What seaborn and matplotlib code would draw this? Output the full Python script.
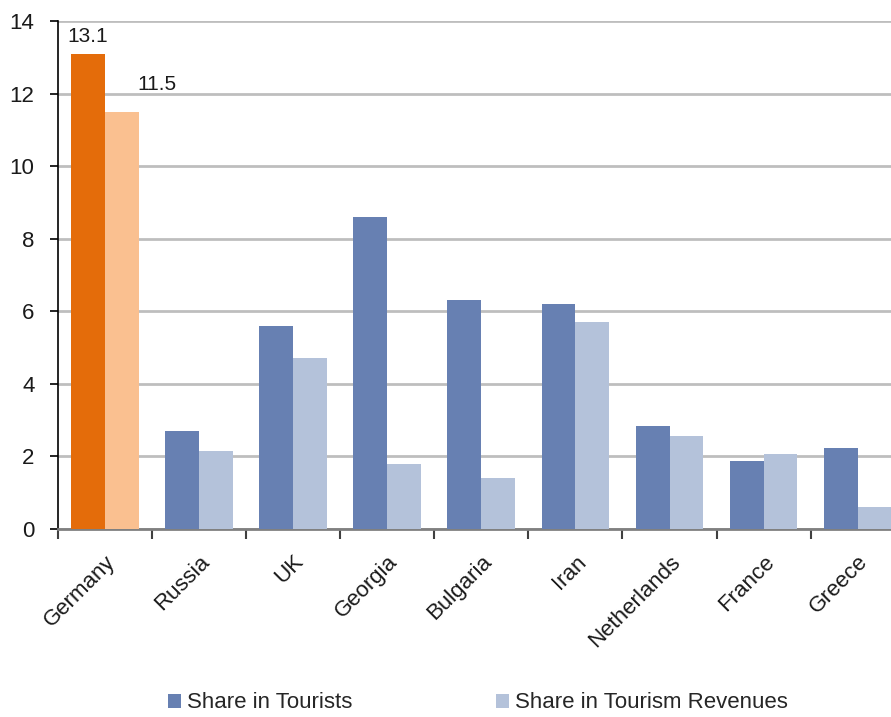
import matplotlib
matplotlib.use("Agg")
import matplotlib.pyplot as plt
import seaborn as sns
import pandas as pd
from matplotlib.patches import Patch

countries = ["Germany", "Russia", "UK", "Georgia", "Bulgaria", "Iran", "Netherlands", "France", "Greece"]
tourists = [13.1, 2.7, 5.6, 8.6, 6.3, 6.2, 2.85, 1.87, 2.24]
revenues = [11.5, 2.15, 4.7, 1.8, 1.4, 5.7, 2.57, 2.06, 0.6]
series = ["Share in Tourists", "Share in Tourism Revenues"]
yticks = [0, 2, 4, 6, 8, 10, 12, 14]

c_tour = "#6780B2"
c_rev = "#B4C2DA"
c_g_tour = "#E46C0A"
c_g_rev = "#FAC090"

df = pd.DataFrame({
    "country": countries * 2,
    "value": tourists + revenues,
    "series": [series[0]] * len(countries) + [series[1]] * len(countries),
})

sns.set_theme(style="white")
plt.rcParams["font.family"] = ["Liberation Sans", "DejaVu Sans"]

fig = plt.figure(figsize=(8.91, 7.17), dpi=100)
ax = fig.add_axes([58 / 891, 1 - 529 / 717, 1 - 58 / 891 + 0.008, (529 - 21) / 717])

sns.barplot(data=df, x="country", y="value", hue="series", order=countries,
            hue_order=series, palette=[c_tour, c_rev], width=0.72,
            saturation=1, ax=ax, legend=False, zorder=3)

# recolor Germany bars
for cont, col in zip(ax.containers, [c_g_tour, c_g_rev]):
    cont.patches[0].set_facecolor(col)
for p in ax.patches:
    p.set_edgecolor("none")

ax.set_ylim(0, 14)
ax.set_yticks(yticks)
ax.set_xlim(-0.5, 8.43)
ax.yaxis.grid(True, color="#BEBEBE", linewidth=2, zorder=0)
ax.set_axisbelow(True)
ax.set_xlabel("")
ax.set_ylabel("")

for s in ["top", "right"]:
    ax.spines[s].set_visible(False)
ax.spines["left"].set_color("black")
ax.spines["left"].set_linewidth(1.2)
ax.spines["bottom"].set_color("#808080")
ax.spines["bottom"].set_linewidth(2)

ax.set_xticks([i - 0.5 for i in range(len(countries))], minor=False)
ax.set_xticklabels([])
ax.set_xticks(range(len(countries)), minor=True)
ax.set_xticklabels(countries, minor=True, rotation=45, ha="right",
                   rotation_mode="anchor", fontsize=16, color="#1a1a1a")
ax.tick_params(axis="x", which="major", length=7, width=1.5, color="#404040", direction="out")
ax.tick_params(axis="x", which="minor", length=0, pad=16)
ax.tick_params(axis="y", length=6, width=1.2, color="black", direction="out", labelsize=16,
               labelcolor="#1a1a1a", pad=11)
ax.tick_params(bottom=True, left=True)

ax.text(0 - 0.18, tourists[0] + 0.2, f"{tourists[0]}", ha="center", va="bottom", fontsize=15, color="#1a1a1a")
ax.text(0.55, revenues[0] + 0.5, f"{revenues[0]}", ha="center", va="bottom", fontsize=15, color="#1a1a1a")

handles = [Patch(facecolor=c_tour, edgecolor="none"), Patch(facecolor=c_rev, edgecolor="none")]
fig.legend(handles, series, loc="center", bbox_to_anchor=(478 / 891, 1 - 703 / 717), ncol=2,
           frameon=False, fontsize=16, handlelength=0.58, handleheight=0.58, handletextpad=0.27,
           columnspacing=6.5)

fig.savefig("out.png", dpi=100)
